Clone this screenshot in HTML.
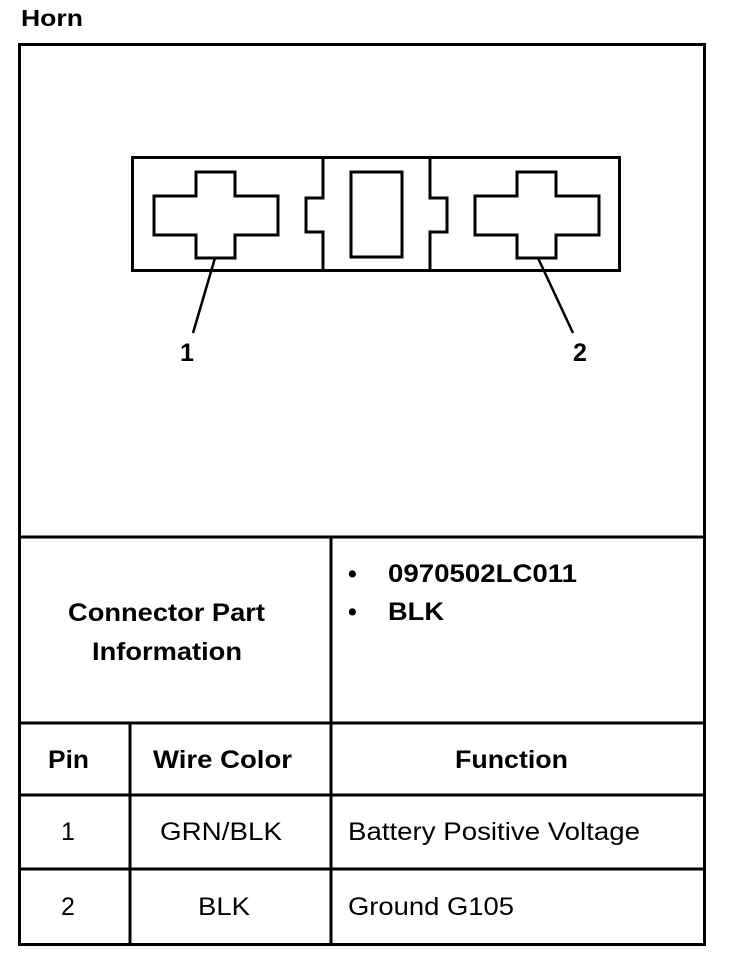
<!DOCTYPE html>
<html><head><style>
body{margin:0;background:#fff;width:752px;height:956px;overflow:hidden}
svg text{font-family:"Liberation Sans",Arial,sans-serif;fill:#000}
.b{font-weight:bold;font-size:25px}
.r{font-size:25px}
</style></head><body>
<svg width="752" height="956" viewBox="0 0 752 956" xmlns="http://www.w3.org/2000/svg">
<text x="21" y="26" class="b" style="font-size:23px" textLength="62" lengthAdjust="spacingAndGlyphs">Horn</text>
<g fill="none" stroke="#000" stroke-width="3">
<rect x="19.5" y="44.5" width="685" height="900"/>
<line x1="19" y1="537" x2="705" y2="537"/>
<line x1="19" y1="723" x2="705" y2="723"/>
<line x1="19" y1="795" x2="705" y2="795"/>
<line x1="19" y1="869" x2="705" y2="869"/>
<line x1="331" y1="537" x2="331" y2="944"/>
<line x1="130" y1="723" x2="130" y2="944"/>
<rect x="132.5" y="157.5" width="487" height="113"/>
<polyline points="323,158 323,198 306,198 306,232 323,232 323,271"/>
<polyline points="430,158 430,198 447,198 447,232 430,232 430,271"/>
<rect x="351" y="172" width="51" height="85"/>
<polygon points="196,172 235,172 235,196 278,196 278,235 235,235 235,258 196,258 196,235 154,235 154,196 196,196"/>
<polygon points="517,172 556,172 556,196 599,196 599,235 556,235 556,258 517,258 517,235 475,235 475,196 517,196"/>
</g>
<g stroke="#000" stroke-width="2.5">
<line x1="215" y1="258" x2="193" y2="333"/>
<line x1="538" y1="258" x2="573" y2="333"/>
</g>
<text x="187" y="361" class="b" text-anchor="middle">1</text>
<text x="580" y="361" class="b" text-anchor="middle">2</text>
<text x="68" y="621" class="b" textLength="197" lengthAdjust="spacingAndGlyphs">Connector Part</text>
<text x="92" y="660" class="b" textLength="150" lengthAdjust="spacingAndGlyphs">Information</text>
<text x="348" y="582" class="b">•</text>
<text x="388" y="582" class="b" textLength="189" lengthAdjust="spacingAndGlyphs">0970502LC011</text>
<text x="348" y="620" class="b">•</text>
<text x="388" y="620" class="b" textLength="56" lengthAdjust="spacingAndGlyphs">BLK</text>
<text x="48" y="768" class="b" textLength="41" lengthAdjust="spacingAndGlyphs">Pin</text>
<text x="153" y="768" class="b" textLength="139" lengthAdjust="spacingAndGlyphs">Wire Color</text>
<text x="455" y="768" class="b" textLength="113" lengthAdjust="spacingAndGlyphs">Function</text>
<text x="68" y="840" class="r" text-anchor="middle">1</text>
<text x="160" y="840" class="r" textLength="122" lengthAdjust="spacingAndGlyphs">GRN/BLK</text>
<text x="348" y="840" class="r" textLength="292" lengthAdjust="spacingAndGlyphs">Battery Positive Voltage</text>
<text x="68" y="915" class="r" text-anchor="middle">2</text>
<text x="198" y="915" class="r" textLength="52" lengthAdjust="spacingAndGlyphs">BLK</text>
<text x="348" y="915" class="r" textLength="166" lengthAdjust="spacingAndGlyphs">Ground G105</text>
</svg>
</body></html>
